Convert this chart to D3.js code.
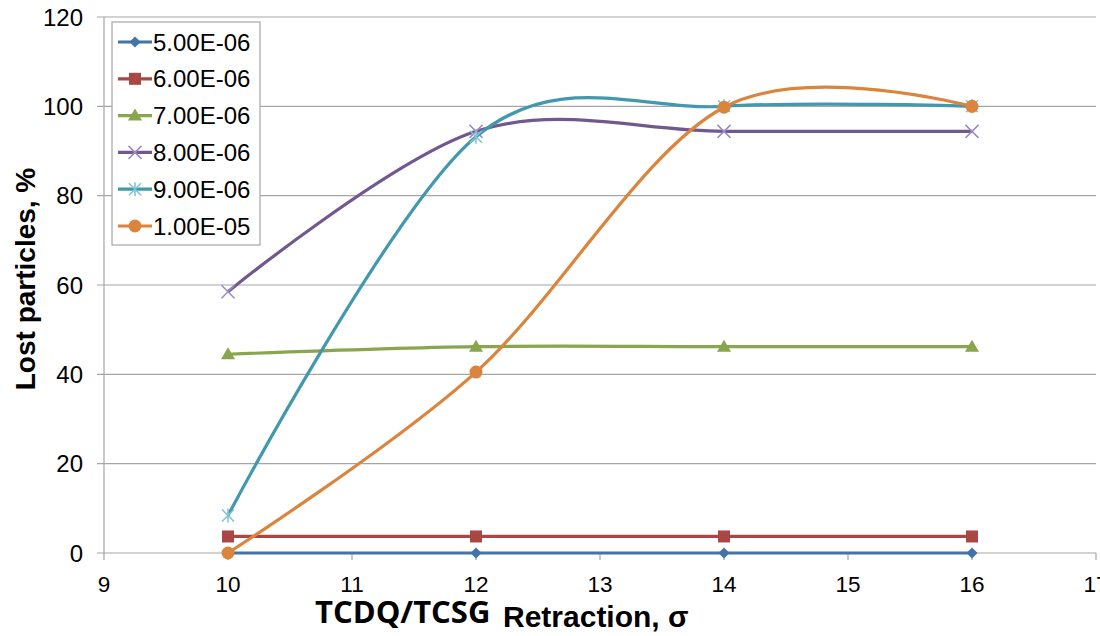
<!DOCTYPE html>
<html>
<head>
<meta charset="utf-8">
<script src="https://cdn.jsdelivr.net/npm/d3@7"></script>
<style>
  body { margin: 0; background: #fff; }
  svg { display: block; font-family: "Liberation Sans", Arial, sans-serif; }
</style>
</head>
<body>
<div id="chart"></div>
<script>
// retraction values (sigma)
var retraction = [10, 12, 14, 16];
var seriesNames = ["5.00E-06", "6.00E-06", "7.00E-06", "8.00E-06", "9.00E-06", "1.00E-05"];
var s5e6 = [0, 0, 0, 0];
var s6e6 = [3.7, 3.7, 3.7, 3.7];
var s7e6 = [44.5, 46.2, 46.2, 46.2];
var s8e6 = [58.5, 94.4, 94.4, 94.4];
var s9e6 = [8.4, 93.2, 100, 100];
var s1e5 = [0, 40.5, 99.8, 100];
var xTicks = [9, 10, 11, 12, 13, 14, 15, 16, 17];
var yTicks = [0, 20, 40, 60, 80, 100, 120];

var colors = ["#4572A7", "#AA4643", "#89A54E", "#71588F", "#4198AF", "#DB843D"];
var markerColors = ["#4572A7", "#AA4643", "#89A54E", "#9A8CC4", "#7CC4D6", "#DB843D"];
var markers = ["diamond", "square", "triangle", "x", "star", "circle"];
var allValues = [s5e6, s6e6, s7e6, s8e6, s9e6, s1e5];

var width = 1100, height = 636;
var svg = d3.select("#chart").append("svg")
    .attr("width", width).attr("height", height);

var x = d3.scaleLinear().domain([9, 17]).range([104, 1096]);
var y = d3.scaleLinear().domain([0, 120]).range([553, 17]);

// gridlines
svg.append("g").selectAll("line")
    .data(yTicks).enter().append("line")
    .attr("x1", 97).attr("x2", 1096)
    .attr("y1", function(d) { return y(d); })
    .attr("y2", function(d) { return y(d); })
    .attr("stroke", "#a6a6a6").attr("stroke-width", 1.2);

// y axis line
svg.append("line")
    .attr("x1", 104).attr("x2", 104).attr("y1", 17).attr("y2", 553)
    .attr("stroke", "#a6a6a6").attr("stroke-width", 1.2);

// x tick marks
svg.append("g").selectAll("line")
    .data(xTicks).enter().append("line")
    .attr("x1", function(d) { return x(d); })
    .attr("x2", function(d) { return x(d); })
    .attr("y1", 553).attr("y2", 560)
    .attr("stroke", "#a6a6a6").attr("stroke-width", 1.2);

// tick labels
svg.append("g").selectAll("text")
    .data(yTicks).enter().append("text")
    .attr("x", 83).attr("y", function(d) { return y(d) + 8.5; })
    .attr("text-anchor", "end")
    .attr("font-size", 24).attr("fill", "#000")
    .text(function(d) { return d; });

svg.append("g").selectAll("text")
    .data(xTicks).enter().append("text")
    .attr("x", function(d) { return x(d); }).attr("y", 592)
    .attr("text-anchor", "middle")
    .attr("font-size", 22.5).attr("fill", "#000")
    .text(function(d) { return d; });

// axis titles
svg.append("text")
    .attr("transform", "translate(35,279) rotate(-90)")
    .attr("text-anchor", "middle")
    .attr("font-size", 28).attr("font-weight", "bold")
    .text("Lost particles, %");

svg.append("text")
    .attr("x", 315).attr("y", 623)
    .attr("font-family", "'Open Sans', sans-serif")
    .attr("font-size", 31).attr("font-weight", "bold")
    .text("TCDQ/TCSG");
svg.append("text")
    .attr("x", 503).attr("y", 627)
    .attr("font-size", 30).attr("font-weight", "bold")
    .text("Retraction, σ");

// lines
var line = d3.line()
    .x(function(d, i) { return x(retraction[i]); })
    .y(function(d) { return y(d); })
    .curve(d3.curveCardinal.tension(0));

function drawMarker(g, type, cx, cy, col) {
    if (type === "diamond") {
        g.append("path").attr("d", d3.symbol(d3.symbolDiamond2, 80)())
            .attr("transform", "translate(" + cx + "," + cy + ")").attr("fill", col);
    } else if (type === "square") {
        g.append("rect").attr("x", cx - 6).attr("y", cy - 6).attr("width", 12).attr("height", 12).attr("fill", col);
    } else if (type === "triangle") {
        g.append("path").attr("d", "M" + cx + "," + (cy - 7) + "L" + (cx + 7) + "," + (cy + 5) + "L" + (cx - 7) + "," + (cy + 5) + "Z")
            .attr("fill", col);
    } else if (type === "x") {
        g.append("path").attr("d", "M" + (cx - 6.5) + "," + (cy - 6.5) + "L" + (cx + 6.5) + "," + (cy + 6.5) + "M" + (cx + 6.5) + "," + (cy - 6.5) + "L" + (cx - 6.5) + "," + (cy + 6.5))
            .attr("stroke", col).attr("stroke-width", 1.5).attr("fill", "none");
    } else if (type === "star") {
        g.append("path").attr("d", "M" + (cx - 6) + "," + (cy - 6) + "L" + (cx + 6) + "," + (cy + 6) + "M" + (cx + 6) + "," + (cy - 6) + "L" + (cx - 6) + "," + (cy + 6) + "M" + cx + "," + (cy - 7) + "L" + cx + "," + (cy + 7))
            .attr("stroke", col).attr("stroke-width", 1.5).attr("fill", "none");
    } else if (type === "circle") {
        g.append("circle").attr("cx", cx).attr("cy", cy).attr("r", 6.5).attr("fill", col);
    }
}

allValues.forEach(function(vals, k) {
    var g = svg.append("g");
    g.append("path").datum(vals)
        .attr("d", line)
        .attr("fill", "none")
        .attr("stroke", colors[k])
        .attr("stroke-width", 3.2);
    vals.forEach(function(v, i) {
        drawMarker(g, markers[k], x(retraction[i]), y(v), markerColors[k]);
    });
});

// legend
var legend = svg.append("g");
legend.append("rect")
    .attr("x", 112).attr("y", 22).attr("width", 148).attr("height", 223)
    .attr("fill", "#fff").attr("stroke", "#a6a6a6").attr("stroke-width", 1.2);
seriesNames.forEach(function(name, k) {
    var ly = 42 + k * 36.8;
    legend.append("line")
        .attr("x1", 118).attr("x2", 152).attr("y1", ly).attr("y2", ly)
        .attr("stroke", colors[k]).attr("stroke-width", 3.2);
    drawMarker(legend, markers[k], 135, ly, markerColors[k]);
    legend.append("text")
        .attr("x", 153).attr("y", ly + 8.5)
        .attr("font-size", 24).attr("fill", "#000")
        .text(name);
});
</script>
</body>
</html>
